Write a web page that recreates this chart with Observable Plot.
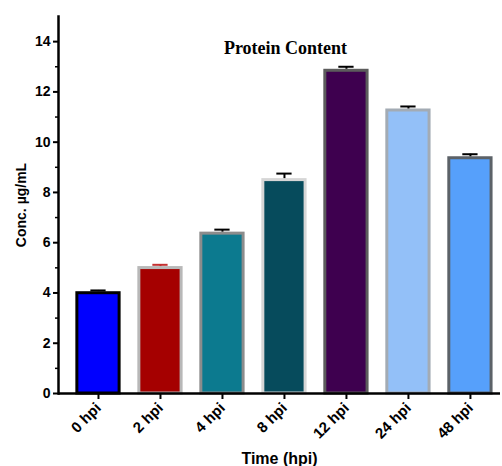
<!DOCTYPE html>
<html>
<head>
<meta charset="utf-8">
<script src="https://cdn.jsdelivr.net/npm/d3@7"></script>
<script src="https://cdn.jsdelivr.net/npm/@observablehq/plot@0.6"></script>
<style>
  html, body { margin: 0; padding: 0; background: #fff; }
  #chart svg { display: block; }
</style>
</head>
<body>
<div id="chart"></div>
<script>
const categories = ["0 hpi", "2 hpi", "4 hpi", "8 hpi", "12 hpi", "24 hpi", "48 hpi"];
const means = [4.05, 5.05, 6.42, 8.55, 12.9, 11.32, 9.42];
const errors = [0.05, 0.07, 0.1, 0.2, 0.1, 0.1, 0.1];
const fills = ["#0000ff", "#a50000", "#0c7a8f", "#064b5c", "#3e004f", "#93c0f8", "#56a0fb"];
const strokes = ["#000000", "#b8b8b8", "#8c8c8c", "#d6d6d6", "#5c5c5c", "#a3abb4", "#5c6268"];
const errColors = ["#000000", "#c43030", "#000000", "#000000", "#000000", "#000000", "#000000"];
const majorTicks = [0, 2, 4, 6, 8, 10, 12, 14];
const minorTicks = [1, 3, 5, 7, 9, 11, 13];

const data = categories.map((c, i) => ({
  cat: c, mean: means[i], err: errors[i], fill: fills[i], stroke: strokes[i], ec: errColors[i]
}));

const plot = Plot.plot({
  width: 502,
  height: 466,
  marginLeft: 58,
  marginRight: 2,
  marginTop: 16,
  marginBottom: 73,
  style: { fontFamily: "'Liberation Sans', Arial, sans-serif", background: "#fff" },
  x: { domain: categories, paddingInner: 0.27, paddingOuter: 0.2, align: 0.7, round: false, label: null },
  y: { domain: [0, 15], label: null },
  marks: [
    Plot.barY(data, {
      x: "cat", y: "mean", fill: "fill", stroke: "stroke", strokeWidth: 3,
      insetLeft: 1.5, insetRight: 1.5, insetTop: 1.5
    }),
    Plot.ruleX(data, { x: "cat", y1: "mean", y2: d => d.mean + d.err, stroke: "ec", strokeWidth: 2 }),
    Plot.tickY(data, { x: "cat", y: d => d.mean + d.err, stroke: "ec", strokeWidth: 2, insetLeft: 15, insetRight: 15 }),
    Plot.axisY({
      ticks: majorTicks, tickSize: 5, tickPadding: 3, tickFormat: d => d,
      fontSize: 14, fontWeight: "bold", strokeWidth: 2,
      label: "Conc. µg/mL", labelAnchor: "center", labelArrow: "none", labelOffset: 42
    }),
    Plot.axisY({ ticks: minorTicks, tickSize: 3, strokeWidth: 1.5, text: null, label: null }),
    Plot.axisX({
      tickSize: 6, tickPadding: 6, tickRotate: -45, strokeWidth: 2,
      fontSize: 15, fontWeight: "bold",
      label: "Time (hpi)", labelAnchor: "center", labelArrow: "none", labelOffset: 70
    }),
    Plot.frame({ anchor: "left", strokeWidth: 2.5 }),
    Plot.ruleY([0], { strokeWidth: 2.5 }),
    Plot.text(["Protein Content"], {
      frameAnchor: "top", dx: 6, dy: 25, text: d => d,
      fontFamily: "'Liberation Serif', 'Times New Roman', serif", fontWeight: "bold", fontSize: 18
    })
  ]
});

plot.querySelectorAll("[aria-label='y-axis label'] text").forEach(t => {
  t.setAttribute("font-weight", "bold");
  t.setAttribute("font-size", "14");
});
plot.querySelectorAll("[aria-label='x-axis label'] text").forEach(t => {
  t.setAttribute("font-weight", "bold");
  t.setAttribute("font-size", "16");
});
document.getElementById("chart").appendChild(plot);
</script>
</body>
</html>
